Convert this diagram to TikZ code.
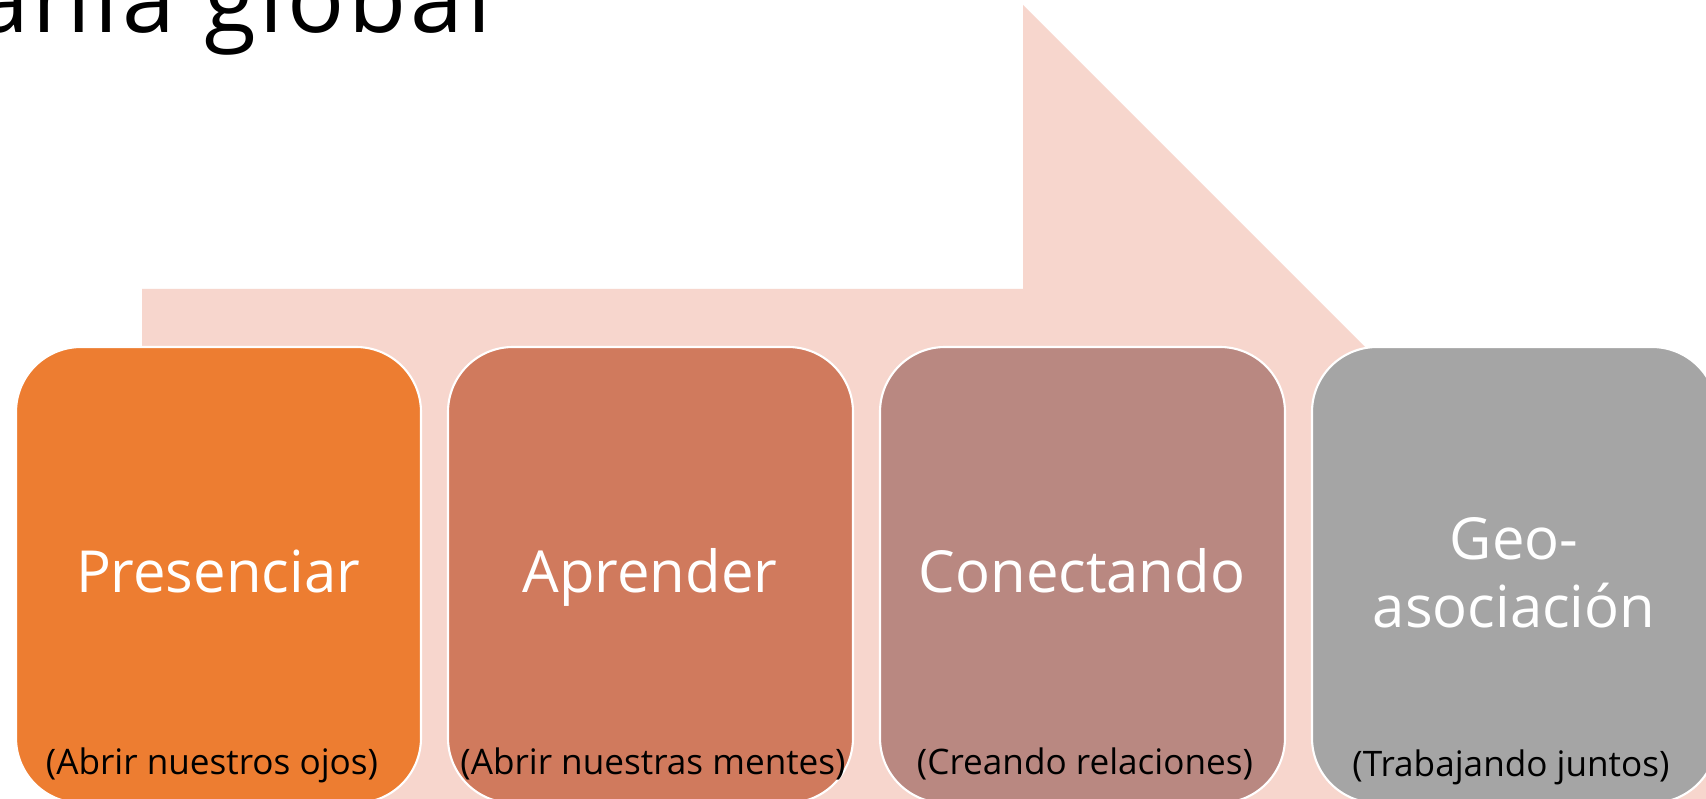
\documentclass[tikz,border=0pt]{standalone}
\usepackage{fontspec}
\setmainfont{Open Sans}
\definecolor{arrowbg}{HTML}{F7D6CD}
\definecolor{cA}{HTML}{ED7D31}
\definecolor{cB}{HTML}{D07A5D}
\definecolor{cC}{HTML}{B98881}
\definecolor{cD}{HTML}{A5A5A5}
\tikzset{
  stagebox/.style={rectangle, rounded corners=6.5mm, minimum width=40.5mm, minimum height=45.6mm, draw=white, line width=0.6pt, inner sep=0pt},
  maintext/.style={anchor=base, inner sep=0pt, text=white, font=\fontsize{16.5pt}{19pt}\selectfont, align=center},
  subtext/.style={anchor=base, inner sep=0pt, text=black, font=\fontsize{10pt}{12pt}\selectfont},
  titletext/.style={anchor=base east, inner sep=0pt, text=black, font=\fontsize{27pt}{32pt}\selectfont\addfontfeature{LetterSpace=4}}
}
\begin{document}
\begin{tikzpicture}[x=0.1mm,y=-0.1mm]
\useasboundingbox (0,0) rectangle (1706,799);
\clip (0,0) rectangle (1706,799);
\fill[white] (0,0) rectangle (1706,799);
\node[titletext] (title) at (492,33) {ania global};
\fill[arrowbg] (142,289) -- (1023,289) -- (1023,5) -- (1900,882) -- (142,882) -- cycle;
\node[stagebox, fill=cA] (b1) at (218.5,575) {};
\node[stagebox, fill=cB] (b2) at (650.5,575) {};
\node[stagebox, fill=cC] (b3) at (1082.5,575) {};
\node[stagebox, fill=cD] (b4) at (1514.5,575) {};
\node[maintext] (t1) at (218,593) {Presenciar};
\node[maintext] (t2) at (650,593) {Aprender};
\node[maintext] (t3) at (1082,593) {Conectando};
\node[maintext, anchor=base] (t4a) at (1514,560) {Geo-};
\node[maintext, anchor=base] (t4b) at (1514,627) {asociación};
\node[subtext] (s1) at (212,774) {(Abrir nuestros ojos)};
\node[subtext] (s2) at (653,774) {(Abrir nuestras mentes)};
\node[subtext] (s3) at (1085,774) {(Creando relaciones)};
\node[subtext] (s4) at (1511,776) {(Trabajando juntos)};
\end{tikzpicture}
\end{document}
